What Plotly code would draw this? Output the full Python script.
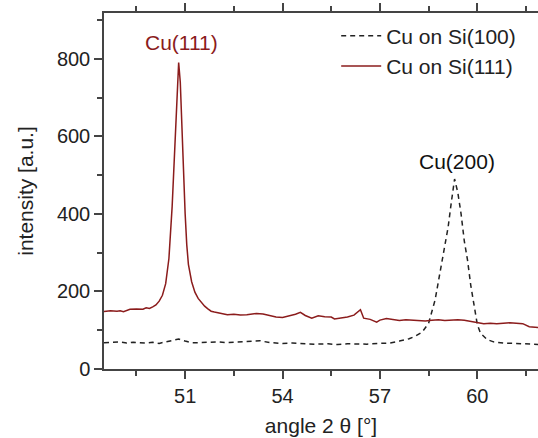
import plotly.graph_objects as go

# Cu on Si(111) (red)
x_si111 = [48.5, 48.7, 48.9, 49.0, 49.1, 49.3, 49.5, 49.7, 49.8, 49.9, 50.0, 50.1, 50.2, 50.3, 50.4,
           50.5, 50.6, 50.7, 50.75, 50.8, 50.85, 50.9, 50.95, 51.0, 51.05, 51.1, 51.2, 51.3, 51.4,
           51.5, 51.6, 51.7, 51.8, 51.9, 52.0, 52.1, 52.3, 52.5, 52.7, 52.9, 53.0, 53.2, 53.4, 53.6,
           53.8, 54.0, 54.2, 54.4, 54.55, 54.7, 54.9, 55.1, 55.3, 55.5, 55.6, 55.8, 56.0, 56.2, 56.4,
           56.5, 56.7, 56.9, 57.0, 57.2, 57.4, 57.6, 57.8, 58.0, 58.2, 58.4, 58.6, 58.8, 59.0, 59.2,
           59.4, 59.6, 59.8, 60.0, 60.2, 60.4, 60.6, 60.8, 61.0, 61.2, 61.4, 61.6, 61.8, 61.9]
y_si111 = [148, 150, 149, 150, 148, 154, 155, 154, 158, 156, 160, 165, 175, 190, 220,
           285, 420, 610, 730, 790, 740, 620, 500, 400, 320, 270, 225, 198, 182,
           172, 162, 155, 149, 147, 145, 143, 140, 141, 139, 140, 141, 143, 142, 137,
           134, 133, 137, 141, 146, 138, 131, 137, 135, 134, 129, 132, 134, 139, 153,
           131, 128, 121, 126, 130, 128, 125, 127, 126, 125, 124, 126, 127, 125, 126,
           127, 126, 123, 121, 117, 118, 117, 118, 119, 118, 117, 109, 107, 107]

# Cu on Si(100) (black dashed)
x_si100 = [48.5, 48.8, 49.0, 49.2, 49.4, 49.6, 49.8, 50.0, 50.2, 50.4, 50.6, 50.8, 51.0, 51.2,
           51.5, 51.8, 52.0, 52.3, 52.6, 53.0, 53.3, 53.6, 54.0, 54.3, 54.6, 55.0, 55.4, 55.7,
           56.0, 56.3, 56.6, 57.0, 57.3, 57.6, 57.9, 58.1, 58.3, 58.5, 58.6, 58.7, 58.8, 58.9,
           59.0, 59.1, 59.2, 59.3, 59.4, 59.5, 59.6, 59.7, 59.8, 59.9, 60.0, 60.1, 60.3, 60.5,
           60.8, 61.2, 61.5, 61.9]
y_si100 = [68, 69, 70, 67, 69, 68, 67, 69, 66, 70, 74, 77, 72, 68,
           68, 69, 70, 68, 69, 72, 73, 68, 66, 67, 66, 64, 65, 63,
           65, 64, 64, 66, 67, 72, 78, 85, 95, 118, 145, 178, 225, 270,
           310, 365, 430, 490, 455, 400, 330, 280, 215, 160, 115, 92, 76, 70,
           67, 66, 65, 63]

x_ticks = [51, 54, 57, 60]
y_ticks = [0, 200, 400, 600, 800]

RED = "#8b1c1c"
FONT = "Liberation Sans, Arial, sans-serif"

fig = go.Figure()
fig.add_trace(go.Scatter(x=x_si100, y=y_si100, mode="lines", name="Cu on Si(100)",
                         line=dict(color="#222222", width=1.5, dash="5px,4px")))
fig.add_trace(go.Scatter(x=x_si111, y=y_si111, mode="lines", name="Cu on Si(111)",
                         line=dict(color=RED, width=1.5)))

fig.add_annotation(x=50.88, y=841, text="Cu(111)", showarrow=False,
                   font=dict(size=21, color=RED, family=FONT))
fig.add_annotation(x=59.37, y=534, text="Cu(200)", showarrow=False,
                   font=dict(size=21, color="#111111", family=FONT))

axis_common = dict(showgrid=False, zeroline=False, showline=True, linecolor="#444444",
                   linewidth=1.5, ticks="outside", ticklen=8, tickwidth=1.5, tickcolor="#444444",
                   tickfont=dict(size=20, color="#222222", family=FONT))

fig.update_layout(
    width=538, height=438,
    margin=dict(l=104, r=0, t=13, b=69),
    paper_bgcolor="white", plot_bgcolor="white",
    font=dict(family=FONT, size=21, color="#222222"),
    showlegend=True,
    legend=dict(x=0.535, y=0.993, xanchor="left", yanchor="top", bgcolor="rgba(0,0,0,0)",
                font=dict(size=21, family=FONT, color="#222222"), tracegroupgap=0,
                itemwidth=40),
    xaxis=dict(range=[48.5, 61.87], tickvals=x_ticks, mirror="ticks",
               minor=dict(dtick=1.5, tick0=48, ticks="outside", ticklen=5, tickwidth=1.5,
                          tickcolor="#444444"),
               title=dict(text="angle 2 θ [°]", font=dict(size=21, family=FONT), standoff=13),
               **axis_common),
    yaxis=dict(range=[0, 918], tickvals=y_ticks,
               minor=dict(dtick=100, tick0=0, ticks="outside", ticklen=5, tickwidth=1.5,
                          tickcolor="#444444"),
               title=dict(text="intensity [a.u.]", font=dict(size=21, family=FONT), standoff=18),
               **axis_common),
)

fig.write_html("out.html", config={"displayModeBar": False},
               post_script="document.body.style.margin='0';document.body.style.padding='0';")
